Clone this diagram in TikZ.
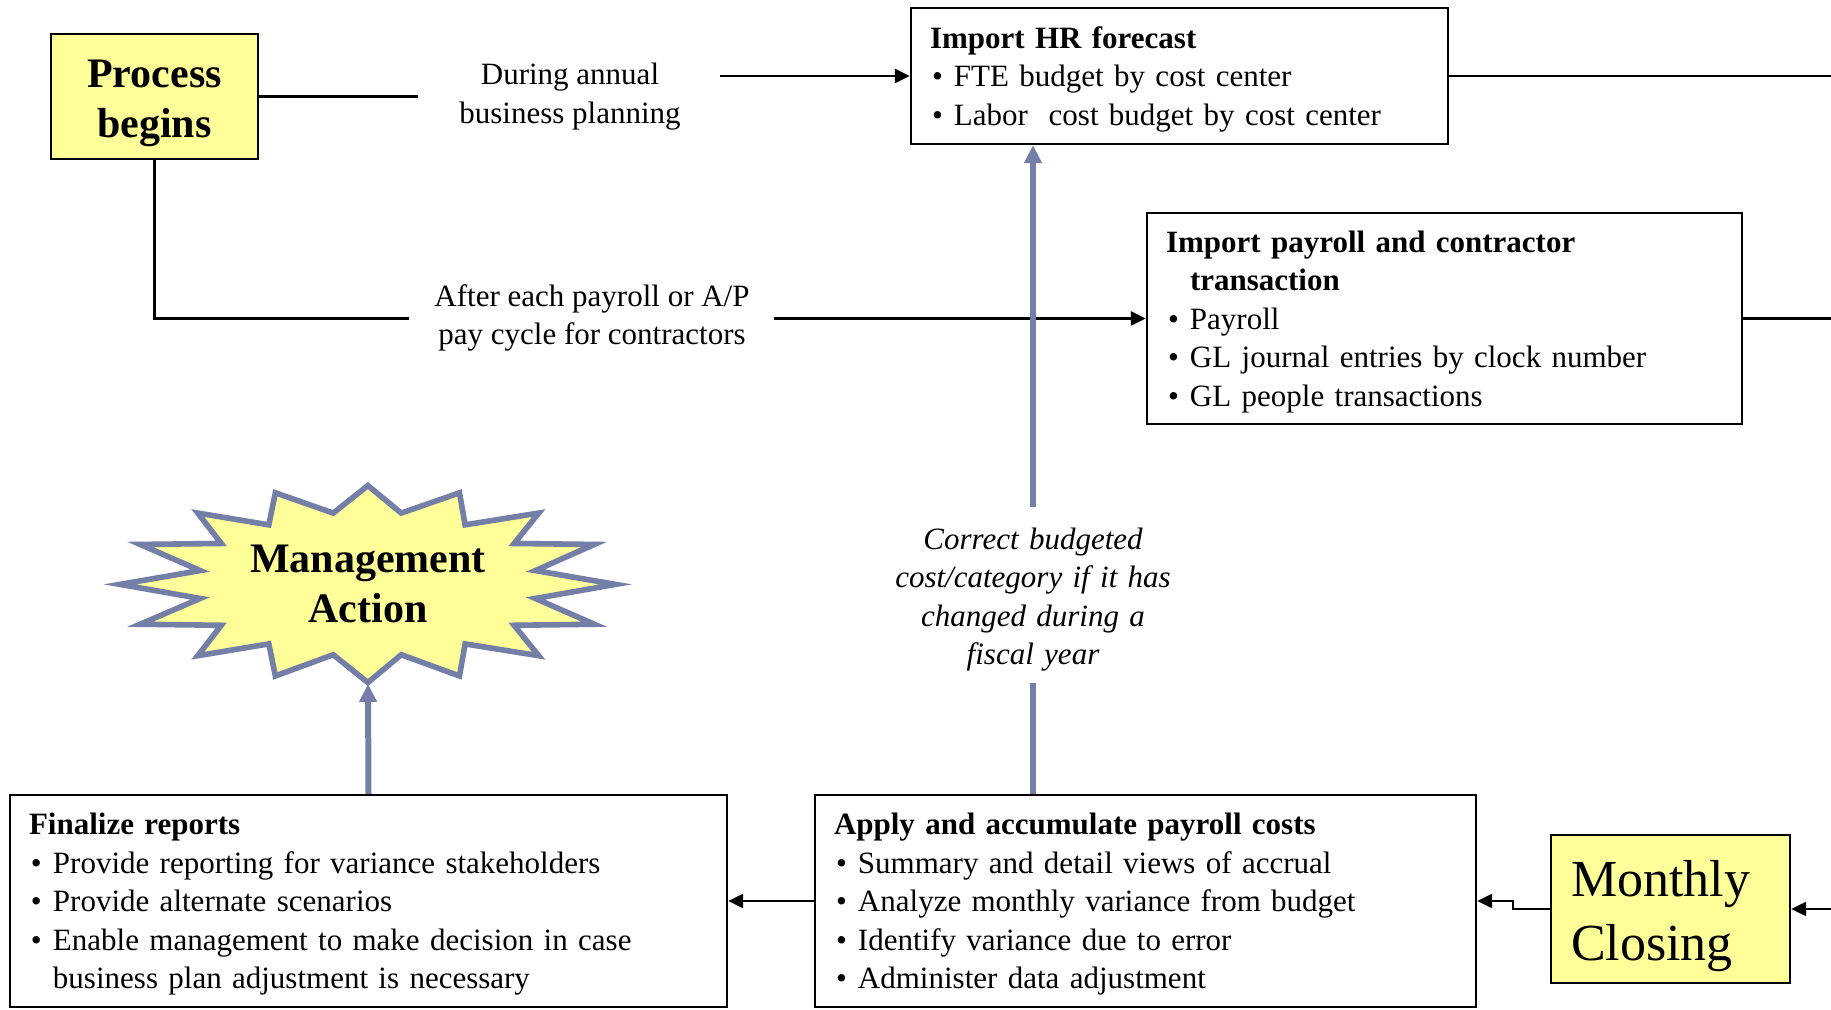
\documentclass[tikz,border=0pt]{standalone}
\usepackage{fontspec}
\setmainfont{Liberation Serif}
\usetikzlibrary{arrows.meta,calc}
\definecolor{boxyellow}{RGB}{255,255,153}
\definecolor{slateblue}{RGB}{116,127,168}
\newcommand{\bitem}[1]{\par\hangindent=12pt\hangafter=1\noindent\makebox[12pt][l]{\hspace{1pt}\textbullet}#1}
\newcommand{\contline}[1]{\par\noindent\hspace*{12pt}#1}
\newcommand{\topstrut}[1]{\rule{0pt}{#1}}
\begin{document}
\begin{tikzpicture}[x=0.5pt,y=-0.5pt,
  font=\fontsize{15.5}{19.25}\selectfont,
  blk/.style={line width=1.2pt,black},
  blkarrow/.style={blk,-{Triangle[length=7.5pt,width=7pt]}},
  blueline/.style={line width=3pt,slateblue},
  bluearrow/.style={blueline,-{Triangle[length=9pt,width=8.5pt]}},
  infobox/.style={draw,line width=1.2pt,fill=white,align=left,inner xsep=9.5pt,inner ysep=0pt},
  yellowbox/.style={draw,line width=1.2pt,fill=boxyellow},
  lbl/.style={align=center,inner sep=0pt}]
\path[use as bounding box,fill=white] (0,0) rectangle (1831,1010);

% boxes
\node[yellowbox,minimum width=103.5pt,minimum height=62.5pt,text width=103.5pt,inner xsep=0pt,inner ysep=0pt,align=center,
  font=\fontsize{21}{25}\selectfont\bfseries] (pb) at (154.5,96.5) {\topstrut{21pt}Process\\begins};

\node[infobox,minimum width=268.5pt,text width=249.5pt,minimum height=68pt] (hr) at (1179.5,76)
 {\noindent\topstrut{14.1pt}\textbf{Import HR forecast}\bitem{FTE budget by cost center}\bitem{Labor\ \ cost budget by cost center}};

\node[infobox,minimum width=297.5pt,text width=278.5pt,minimum height=105.5pt] (pay) at (1444.5,318.5)
 {\noindent\topstrut{14.1pt}\textbf{Import payroll and contractor}\contline{\textbf{transaction}}\bitem{Payroll}\bitem{GL journal entries by clock number}\bitem{GL people transactions}};

\node[infobox,minimum width=358.5pt,text width=339.5pt,minimum height=106pt] (fin) at (368.5,901)
 {\noindent\topstrut{14.1pt}\textbf{Finalize reports}\bitem{Provide reporting for variance stakeholders}\bitem{Provide alternate scenarios}\bitem{Enable management to make decision in case}\contline{business plan adjustment is necessary}};

\node[infobox,minimum width=330.5pt,text width=311.5pt,minimum height=106pt] (ap) at (1145.5,901)
 {\noindent\topstrut{14.1pt}\textbf{Apply and accumulate payroll costs}\bitem{Summary and detail views of accrual}\bitem{Analyze monthly variance from budget}\bitem{Identify variance due to error}\bitem{Administer data adjustment}};

\node[yellowbox,minimum width=119.5pt,minimum height=74pt,text width=99.5pt,inner xsep=10pt,inner ysep=0pt,align=left,
  font=\fontsize{26}{32}\selectfont] (mc) at (1670.5,909) {\topstrut{24.8pt}Monthly\\Closing};

% starburst
\begin{scope}[shift={(368,584)},xscale=0.95,yscale=0.965,shift={(-368,-584)}]
\draw[line width=2.8pt,slateblue,fill=boxyellow,line join=miter,miter limit=10]
 (367.9,482) -- (403.0,510.5) -- (464.3,489.5) -- (470.2,522.7) -- (547.7,510.5) -- (521.8,542)
 -- (606.2,543) -- (544.2,570.1) -- (628.6,584.4) -- (544.2,599) -- (606.2,625.7) -- (521.8,626.8)
 -- (547.7,658.3) -- (470.2,646.1) -- (464.3,679.3) -- (403.0,657.3) -- (367.9,686.1) -- (331.4,657.3)
 -- (270.5,679.3) -- (263.6,646.1) -- (188.8,658.3) -- (213.6,626.8) -- (128.2,625.7) -- (191.3,599)
 -- (106.9,584.4) -- (191.3,570.1) -- (128.2,543) -- (213.6,542) -- (188.8,510.5) -- (263.6,522.7)
 -- (270.5,489.5) -- (331.4,510.5) -- cycle;
\end{scope}
\node[font=\fontsize{21}{25}\selectfont\bfseries,align=center] (ma) at (368,584) {Management\\Action};
\coordinate (starbot) at (368,684);

% labels
\node[lbl] (l1) at (570,96.5) {During annual\\business planning};
\node[lbl] (l2) at (592,318) {After each payroll or A/P\\pay cycle for contractors};
\node[align=center,text width=160pt,inner xsep=0pt,inner ysep=5.75pt,font=\fontsize{15.5}{19.25}\selectfont\itshape] (l3) at (1033,595)
 {\topstrut{15.1pt}Correct budgeted\\cost/category if it has\\changed during a\\fiscal year};

% connectors
\coordinate (a1) at (418,96.5);
\coordinate (a2) at (720,76);
\coordinate (b1) at (409,318.5);
\coordinate (b2) at (774,318.5);
\coordinate (e1) at (1831,76);
\coordinate (e2) at (1831,318.5);
\coordinate (e3) at (1831,909);
\coordinate (s1) at (1513,909);

\draw[blk] (pb.east) -- (a1);
\draw[blkarrow] (a2) -- (hr.west);
\draw[blk] (pb.south) |- (b1);
\draw[blkarrow] (b2) -- (pay.west);
\draw[blk] (hr.east) -- (e1);
\draw[blk] (pay.east) -- (e2);
\draw[blkarrow] (e3) -- (mc.east);
\draw[blkarrow] (mc.west) -- (s1) -- (s1 |- ap.east) -- (ap.east);
\draw[blkarrow] (ap.west) -- (fin.east);
\draw[bluearrow] (fin.north) -- (starbot);
\draw[blueline] (ap.north -| l3) -- (l3.south);
\draw[bluearrow] (l3.north) -- (hr.south -| l3);
\end{tikzpicture}
\end{document}
